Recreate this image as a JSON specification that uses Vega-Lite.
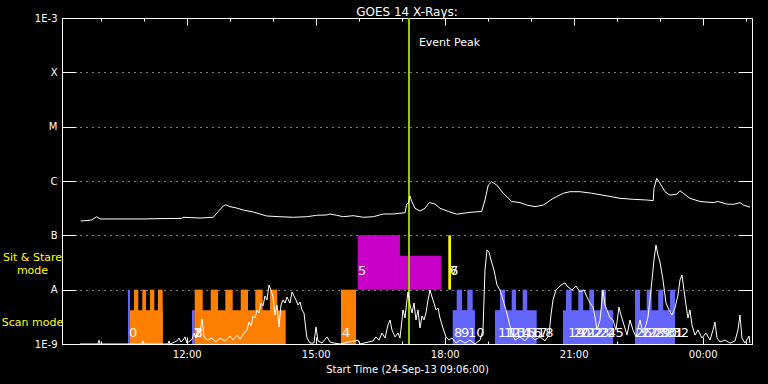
{
 "$schema": "https://vega.github.io/schema/vega-lite/v6.json",
 "width": 690, "height": 326,
 "autosize": {"type": "none"},
 "padding": {"left": 62, "top": 18, "right": 16, "bottom": 40},
 "background": "black",
 "title": {"text": "GOES 14 X-Rays:", "color": "white", "font": "DejaVu Sans", "fontSize": 12, "fontWeight": "normal", "offset": -6},
 "config": {"view": {"stroke": "white", "strokeWidth": 1},
  "axis": {"domainColor": "white", "tickColor": "white", "labelColor": "white", "labelFont": "DejaVu Sans", "labelFontSize": 10, "titleColor": "white", "titleFont": "DejaVu Sans", "titleFontSize": 10, "titleFontWeight": "normal", "grid": false}},
 "datasets": {
  "bars": [
   {"t0": 10.635, "t1": 10.681, "lo": 1e-9, "hi": 1e-8, "kind": "blue"},
   {"t0": 10.681, "t1": 11.442, "lo": 1e-9, "hi": 4.2e-9, "kind": "scan"},
   {"t0": 10.774, "t1": 10.874, "lo": 1e-9, "hi": 1e-8, "kind": "scan"},
   {"t0": 10.967, "t1": 11.053, "lo": 1e-9, "hi": 1e-8, "kind": "scan"},
   {"t0": 11.147, "t1": 11.247, "lo": 1e-9, "hi": 1e-8, "kind": "scan"},
   {"t0": 11.333, "t1": 11.442, "lo": 1e-9, "hi": 1e-8, "kind": "scan"},
   {"t0": 12.123, "t1": 12.186, "lo": 1e-9, "hi": 4.2e-9, "kind": "blue"},
   {"t0": 12.186, "t1": 14.302, "lo": 1e-9, "hi": 4.2e-9, "kind": "scan"},
   {"t0": 12.186, "t1": 12.372, "lo": 1e-9, "hi": 1e-8, "kind": "scan"},
   {"t0": 12.558, "t1": 12.728, "lo": 1e-9, "hi": 1e-8, "kind": "scan"},
   {"t0": 12.898, "t1": 13.070, "lo": 1e-9, "hi": 1e-8, "kind": "scan"},
   {"t0": 13.256, "t1": 13.426, "lo": 1e-9, "hi": 1e-8, "kind": "scan"},
   {"t0": 13.595, "t1": 13.767, "lo": 1e-9, "hi": 1e-8, "kind": "scan"},
   {"t0": 13.937, "t1": 14.107, "lo": 1e-9, "hi": 1e-8, "kind": "scan"},
   {"t0": 15.588, "t1": 15.937, "lo": 1e-9, "hi": 1e-8, "kind": "scan"},
   {"t0": 15.977, "t1": 16.960, "lo": 1e-8, "hi": 1e-7, "kind": "sit"},
   {"t0": 16.960, "t1": 17.914, "lo": 1e-8, "hi": 4.2e-8, "kind": "sit"},
   {"t0": 18.084, "t1": 18.147, "lo": 1e-8, "hi": 1e-7, "kind": "yellow"},
   {"t0": 18.186, "t1": 18.705, "lo": 1e-9, "hi": 4.2e-9, "kind": "blue"},
   {"t0": 18.279, "t1": 18.402, "lo": 1e-9, "hi": 1e-8, "kind": "blue"},
   {"t0": 18.526, "t1": 18.651, "lo": 1e-9, "hi": 1e-8, "kind": "blue"},
   {"t0": 19.170, "t1": 20.140, "lo": 1e-9, "hi": 4.2e-9, "kind": "blue"},
   {"t0": 19.286, "t1": 19.402, "lo": 1e-9, "hi": 1e-8, "kind": "blue"},
   {"t0": 19.558, "t1": 19.658, "lo": 1e-9, "hi": 1e-8, "kind": "blue"},
   {"t0": 19.814, "t1": 19.921, "lo": 1e-9, "hi": 1e-8, "kind": "blue"},
   {"t0": 20.751, "t1": 21.914, "lo": 1e-9, "hi": 4.2e-9, "kind": "blue"},
   {"t0": 20.821, "t1": 20.953, "lo": 1e-9, "hi": 1e-8, "kind": "blue"},
   {"t0": 21.107, "t1": 21.223, "lo": 1e-9, "hi": 1e-8, "kind": "blue"},
   {"t0": 21.363, "t1": 21.472, "lo": 1e-9, "hi": 1e-8, "kind": "blue"},
   {"t0": 21.635, "t1": 21.751, "lo": 1e-9, "hi": 1e-8, "kind": "blue"},
   {"t0": 22.426, "t1": 23.356, "lo": 1e-9, "hi": 4.2e-9, "kind": "blue"},
   {"t0": 22.426, "t1": 22.542, "lo": 1e-9, "hi": 1e-8, "kind": "blue"},
   {"t0": 22.698, "t1": 22.814, "lo": 1e-9, "hi": 1e-8, "kind": "blue"},
   {"t0": 22.967, "t1": 23.084, "lo": 1e-9, "hi": 1e-8, "kind": "blue"},
   {"t0": 23.240, "t1": 23.356, "lo": 1e-9, "hi": 1e-8, "kind": "blue"}
  ],
  "long": [
   {"t":9.535,"v":1.84e-7},{"t":9.635,"v":1.86e-7},{"t":9.79,"v":1.92e-7},{"t":9.907,"v":2.2e-7},{"t":9.984,"v":2.0e-7},{"t":10.286,"v":2.0e-7},{"t":10.984,"v":2.0e-7},{"t":11.379,"v":2.03e-7},{"t":11.884,"v":2.05e-7},{"t":11.914,"v":2.15e-7},{"t":12.309,"v":2.08e-7},{"t":12.619,"v":2.15e-7},{"t":12.735,"v":2.75e-7},{"t":12.851,"v":3.47e-7},{"t":12.907,"v":3.65e-7},{"t":13.007,"v":3.37e-7},{"t":13.163,"v":3.18e-7},{"t":13.316,"v":2.92e-7},{"t":13.549,"v":2.69e-7},{"t":13.705,"v":2.47e-7},{"t":13.86,"v":2.27e-7},{"t":14.17,"v":2.2e-7},{"t":14.479,"v":2.15e-7},{"t":14.791,"v":2.2e-7},{"t":15.023,"v":2.34e-7},{"t":15.256,"v":2.37e-7},{"t":15.333,"v":2.47e-7},{"t":15.488,"v":2.34e-7},{"t":15.642,"v":2.2e-7},{"t":15.874,"v":2.3e-7},{"t":16.107,"v":2.15e-7},{"t":16.34,"v":2.2e-7},{"t":16.572,"v":2.47e-7},{"t":16.805,"v":2.47e-7},{"t":16.96,"v":2.55e-7},{"t":17.077,"v":2.6e-7},{"t":17.116,"v":3.77e-7},{"t":17.153,"v":3.9e-7},{"t":17.193,"v":5.3e-7},{"t":17.233,"v":4.2e-7},{"t":17.309,"v":3.15e-7},{"t":17.426,"v":2.8e-7},{"t":17.542,"v":3.15e-7},{"t":17.642,"v":4.0e-7},{"t":17.774,"v":3.77e-7},{"t":17.891,"v":3.15e-7},{"t":18.084,"v":2.75e-7},{"t":18.279,"v":2.45e-7},{"t":18.588,"v":2.65e-7},{"t":18.86,"v":2.75e-7},{"t":18.937,"v":4.47e-7},{"t":19.014,"v":8.45e-7},{"t":19.093,"v":9.7e-7},{"t":19.209,"v":8.45e-7},{"t":19.363,"v":5.95e-7},{"t":19.558,"v":4.2e-7},{"t":19.751,"v":4.0e-7},{"t":19.907,"v":3.61e-7},{"t":20.1,"v":3.37e-7},{"t":20.293,"v":3.61e-7},{"t":20.526,"v":4.8e-7},{"t":20.758,"v":5.95e-7},{"t":20.914,"v":6.35e-7},{"t":21.147,"v":6.35e-7},{"t":21.419,"v":5.95e-7},{"t":21.612,"v":5.6e-7},{"t":21.844,"v":5.2e-7},{"t":22.077,"v":4.8e-7},{"t":22.386,"v":4.6e-7},{"t":22.698,"v":4.47e-7},{"t":22.851,"v":4.35e-7},{"t":22.867,"v":7.3e-7},{"t":22.93,"v":1.12e-6},{"t":23.007,"v":9.1e-7},{"t":23.123,"v":6.35e-7},{"t":23.239,"v":5.5e-7},{"t":23.395,"v":5.7e-7},{"t":23.472,"v":6.6e-7},{"t":23.549,"v":5.95e-7},{"t":23.705,"v":4.8e-7},{"t":23.937,"v":4.2e-7},{"t":24.247,"v":4.0e-7},{"t":24.353,"v":4.2e-7},{"t":24.56,"v":3.77e-7},{"t":24.714,"v":3.72e-7},{"t":24.87,"v":4.0e-7},{"t":24.947,"v":3.61e-7},{"t":25.1,"v":3.3e-7}
  ],
  "short": [
   {"t":9.519,"v":1.0e-9},{"t":9.937,"v":1.0e-9},{"t":9.960,"v":1.18e-9},{"t":9.984,"v":1.0e-9},{"t":10.960,"v":1.0e-9},{"t":10.984,"v":1.14e-9},{"t":11.007,"v":1.0e-9},{"t":11.565,"v":1.0e-9},{"t":11.588,"v":1.14e-9},{"t":11.612,"v":1.0e-9},{"t":11.774,"v":1.14e-9},{"t":11.821,"v":1.29e-9},{"t":11.867,"v":1.09e-9},{"t":11.914,"v":1.18e-9},{"t":11.960,"v":1.35e-9},{"t":12.007,"v":1.04e-9},{"t":12.077,"v":1.14e-9},{"t":12.123,"v":1.22e-9},{"t":12.170,"v":1.59e-9},{"t":12.216,"v":1.29e-9},{"t":12.263,"v":1.81e-9},{"t":12.309,"v":1.59e-9},{"t":12.356,"v":2.89e-9},{"t":12.402,"v":1.40e-9},{"t":12.472,"v":1.18e-9},{"t":12.588,"v":1.29e-9},{"t":12.681,"v":1.09e-9},{"t":12.774,"v":1.29e-9},{"t":12.891,"v":1.14e-9},{"t":13.007,"v":1.40e-9},{"t":13.077,"v":1.18e-9},{"t":13.170,"v":1.46e-9},{"t":13.240,"v":1.22e-9},{"t":13.333,"v":1.59e-9},{"t":13.402,"v":1.81e-9},{"t":13.449,"v":2.54e-9},{"t":13.495,"v":2.14e-9},{"t":13.542,"v":3.28e-9},{"t":13.588,"v":3.01e-9},{"t":13.635,"v":4.23e-9},{"t":13.681,"v":3.72e-9},{"t":13.728,"v":5.68e-9},{"t":13.774,"v":5.01e-9},{"t":13.821,"v":7.65e-9},{"t":13.867,"v":6.45e-9},{"t":13.914,"v":1.22e-8},{"t":13.960,"v":9.86e-9},{"t":14.007,"v":7.33e-9},{"t":14.053,"v":3.42e-9},{"t":14.100,"v":5.22e-9},{"t":14.147,"v":2.06e-9},{"t":14.193,"v":5.22e-9},{"t":14.240,"v":6.45e-9},{"t":14.286,"v":5.68e-9},{"t":14.333,"v":7.33e-9},{"t":14.402,"v":5.68e-9},{"t":14.449,"v":9.06e-9},{"t":14.495,"v":7.65e-9},{"t":14.542,"v":6.45e-9},{"t":14.588,"v":5.22e-9},{"t":14.635,"v":5.93e-9},{"t":14.681,"v":4.23e-9},{"t":14.728,"v":3.72e-9},{"t":14.774,"v":1.81e-9},{"t":14.798,"v":1.29e-9},{"t":14.867,"v":1.04e-9},{"t":14.960,"v":1.04e-9},{"t":15.007,"v":2.06e-9},{"t":15.053,"v":1.14e-9},{"t":15.147,"v":1.04e-9},{"t":15.263,"v":1.35e-9},{"t":15.333,"v":1.09e-9},{"t":15.426,"v":1.04e-9},{"t":15.565,"v":1.0e-9},{"t":15.984,"v":1.18e-9},{"t":16.030,"v":1.0e-9},{"t":16.333,"v":1.14e-9},{"t":16.402,"v":1.35e-9},{"t":16.472,"v":1.18e-9},{"t":16.542,"v":1.59e-9},{"t":16.612,"v":1.29e-9},{"t":16.681,"v":2.24e-9},{"t":16.728,"v":2.77e-9},{"t":16.774,"v":1.81e-9},{"t":16.844,"v":1.35e-9},{"t":16.914,"v":1.59e-9},{"t":16.960,"v":1.29e-9},{"t":17.007,"v":2.77e-9},{"t":17.030,"v":4.23e-9},{"t":17.077,"v":3.01e-9},{"t":17.123,"v":6.45e-9},{"t":17.147,"v":9.06e-9},{"t":17.193,"v":5.22e-9},{"t":17.240,"v":3.72e-9},{"t":17.286,"v":5.68e-9},{"t":17.333,"v":2.77e-9},{"t":17.379,"v":4.23e-9},{"t":17.426,"v":1.97e-9},{"t":17.472,"v":3.28e-9},{"t":17.519,"v":2.77e-9},{"t":17.565,"v":3.72e-9},{"t":17.612,"v":6.45e-9},{"t":17.658,"v":9.86e-9},{"t":17.705,"v":7.33e-9},{"t":17.751,"v":5.68e-9},{"t":17.798,"v":4.23e-9},{"t":17.844,"v":4.60e-9},{"t":17.891,"v":3.01e-9},{"t":17.960,"v":1.97e-9},{"t":18.030,"v":1.35e-9},{"t":18.100,"v":1.18e-9},{"t":18.170,"v":1.29e-9},{"t":18.263,"v":1.04e-9},{"t":18.356,"v":1.18e-9},{"t":18.472,"v":1.04e-9},{"t":18.588,"v":1.18e-9},{"t":18.705,"v":1.0e-9},{"t":18.821,"v":1.18e-9},{"t":18.891,"v":1.81e-9},{"t":18.914,"v":6.45e-9},{"t":18.937,"v":2.30e-8},{"t":18.984,"v":5.37e-8},{"t":19.030,"v":4.94e-8},{"t":19.077,"v":3.52e-8},{"t":19.147,"v":2.30e-8},{"t":19.216,"v":1.22e-8},{"t":19.286,"v":9.86e-9},{"t":19.356,"v":6.45e-9},{"t":19.426,"v":4.23e-9},{"t":19.495,"v":2.54e-9},{"t":19.565,"v":1.59e-9},{"t":19.635,"v":1.18e-9},{"t":19.751,"v":1.35e-9},{"t":19.867,"v":1.14e-9},{"t":19.984,"v":1.46e-9},{"t":20.100,"v":1.18e-9},{"t":20.216,"v":1.35e-9},{"t":20.333,"v":1.14e-9},{"t":20.426,"v":1.46e-9},{"t":20.472,"v":3.42e-9},{"t":20.519,"v":6.45e-9},{"t":20.588,"v":9.86e-9},{"t":20.681,"v":1.17e-8},{"t":20.751,"v":1.27e-8},{"t":20.798,"v":1.33e-8},{"t":20.867,"v":1.12e-8},{"t":20.960,"v":9.86e-9},{"t":21.053,"v":1.17e-8},{"t":21.147,"v":9.06e-9},{"t":21.240,"v":9.86e-9},{"t":21.309,"v":7.33e-9},{"t":21.379,"v":5.68e-9},{"t":21.449,"v":4.80e-9},{"t":21.495,"v":3.14e-9},{"t":21.542,"v":1.81e-9},{"t":21.612,"v":2.77e-9},{"t":21.681,"v":9.86e-9},{"t":21.728,"v":5.22e-9},{"t":21.774,"v":4.23e-9},{"t":21.844,"v":3.01e-9},{"t":21.914,"v":2.77e-9},{"t":21.984,"v":1.81e-9},{"t":22.053,"v":4.80e-9},{"t":22.100,"v":3.42e-9},{"t":22.170,"v":2.24e-9},{"t":22.240,"v":1.46e-9},{"t":22.309,"v":2.77e-9},{"t":22.379,"v":1.81e-9},{"t":22.449,"v":1.35e-9},{"t":22.542,"v":2.77e-9},{"t":22.612,"v":1.59e-9},{"t":22.681,"v":2.24e-9},{"t":22.728,"v":3.14e-9},{"t":22.774,"v":6.45e-9},{"t":22.821,"v":1.51e-8},{"t":22.867,"v":3.52e-8},{"t":22.914,"v":6.64e-8},{"t":22.960,"v":4.35e-8},{"t":23.007,"v":3.23e-8},{"t":23.077,"v":1.51e-8},{"t":23.147,"v":5.68e-9},{"t":23.216,"v":4.23e-9},{"t":23.286,"v":3.42e-9},{"t":23.356,"v":4.60e-9},{"t":23.426,"v":7.98e-9},{"t":23.472,"v":1.51e-8},{"t":23.519,"v":1.86e-8},{"t":23.565,"v":9.86e-9},{"t":23.612,"v":5.22e-9},{"t":23.658,"v":3.01e-9},{"t":23.705,"v":4.23e-9},{"t":23.751,"v":2.24e-9},{"t":23.821,"v":1.46e-9},{"t":23.891,"v":1.81e-9},{"t":23.984,"v":1.29e-9},{"t":24.077,"v":1.59e-9},{"t":24.170,"v":1.18e-9},{"t":24.240,"v":1.81e-9},{"t":24.286,"v":2.54e-9},{"t":24.333,"v":1.29e-9},{"t":24.402,"v":1.09e-9},{"t":24.519,"v":1.18e-9},{"t":24.635,"v":1.04e-9},{"t":24.751,"v":1.14e-9},{"t":24.821,"v":1.81e-9},{"t":24.867,"v":3.42e-9},{"t":24.914,"v":1.29e-9},{"t":24.984,"v":1.04e-9},{"t":25.077,"v":1.40e-9},{"t":25.100,"v":1.04e-9}
  ],
  "labels": [
   {"n":"0","t":10.658,"v":1.62e-9},{"n":"1","t":12.15,"v":1.62e-9},{"n":"2","t":12.17,"v":1.62e-9},{"n":"3","t":12.19,"v":1.62e-9},{"n":"4","t":15.612,"v":1.62e-9},
   {"n":"5","t":15.984,"v":2.2e-8},{"n":"6","t":18.123,"v":2.2e-8},{"n":"7","t":18.123,"v":2.2e-8},
   {"n":"8","t":18.216,"v":1.62e-9},{"n":"9","t":18.379,"v":1.62e-9},{"n":"10","t":18.542,"v":1.62e-9},
   {"n":"11","t":19.240,"v":1.62e-9},{"n":"12","t":19.379,"v":1.62e-9},{"n":"13","t":19.495,"v":1.62e-9},{"n":"14","t":19.612,"v":1.62e-9},{"n":"15","t":19.728,"v":1.62e-9},{"n":"16","t":19.867,"v":1.62e-9},{"n":"17","t":20.007,"v":1.62e-9},{"n":"18","t":20.147,"v":1.62e-9},
   {"n":"19","t":20.867,"v":1.62e-9},{"n":"20","t":21.00,"v":1.62e-9},{"n":"21","t":21.15,"v":1.62e-9},{"n":"22","t":21.30,"v":1.62e-9},{"n":"23","t":21.45,"v":1.62e-9},{"n":"24","t":21.60,"v":1.62e-9},{"n":"25","t":21.78,"v":1.62e-9},
   {"n":"26","t":22.43,"v":1.62e-9},{"n":"27","t":22.58,"v":1.62e-9},{"n":"28","t":22.72,"v":1.62e-9},{"n":"29","t":22.87,"v":1.62e-9},{"n":"30","t":23.02,"v":1.62e-9},{"n":"31","t":23.17,"v":1.62e-9},{"n":"32","t":23.30,"v":1.62e-9}
  ]
 },
 "resolve": {"axis": {"x": "independent", "y": "independent"}},
 "layer": [
  {
   "data": {"name": "bars"},
   "mark": {"type": "rect"},
   "encoding": {
    "x": {"field": "t0", "type": "quantitative", "scale": {"domain": [9.1, 25.147], "nice": false, "zero": false},
     "axis": {"orient": "bottom", "values": [12, 15, 18, 21, 24], "labelExpr": "datum.value >= 24 ? '00:00' : datum.value + ':00'", "tickSize": -7, "labelPadding": 12, "title": "Start Time (24-Sep-13 09:06:00)", "titlePadding": 5, "labelFlush": false}},
    "x2": {"field": "t1"},
    "y": {"field": "lo", "type": "quantitative", "scale": {"type": "log", "domain": [1e-9, 1e-3], "nice": false},
     "axis": {"orient": "left", "values": [1e-9, 1e-8, 1e-7, 1e-6, 1e-5, 1e-4, 1e-3], "labelExpr": "['1E-9','A','B','C','M','X','1E-3'][round(log(datum.value)/LN10)+9]", "tickSize": -14, "labelPadding": 19, "grid": true, "gridColor": "white", "gridDash": [1, 5], "gridOpacity": 1, "title": null}},
    "y2": {"field": "hi"},
    "color": {"field": "kind", "type": "nominal", "scale": {"domain": ["scan", "blue", "sit", "yellow"], "range": ["#ff7f00", "#6464ff", "#c800c8", "#ffff00"]}, "legend": null}
   }
  },
  {
   "data": {"values": [{"t": 17.17}]},
   "mark": {"type": "rule", "color": "#99cc00", "strokeWidth": 2},
   "encoding": {
    "x": {"field": "t", "type": "quantitative", "scale": {"domain": [9.1, 25.147], "nice": false, "zero": false},
     "axis": {"orient": "top", "values": [10, 11, 12, 13, 14, 15, 16, 17, 18, 19, 20, 21, 22, 23, 24, 25], "tickSize": -3, "labels": false, "domain": false, "title": null}}
   }
  },
  {
   "data": {"name": "short"},
   "mark": {"type": "line", "color": "white", "strokeWidth": 1, "clip": true},
   "encoding": {
    "x": {"field": "t", "type": "quantitative", "scale": {"domain": [9.1, 25.147], "nice": false, "zero": false},
     "axis": {"orient": "top", "values": [12, 15, 18, 21, 24], "tickSize": -7, "labels": false, "domain": false, "title": null}},
    "y": {"field": "v", "type": "quantitative", "scale": {"type": "log", "domain": [1e-9, 1e-3], "nice": false},
     "axis": {"orient": "right", "values": [1e-9, 1e-8, 1e-7, 1e-6, 1e-5, 1e-4, 1e-3], "tickSize": -14, "labels": false, "domain": false, "title": null}}
   }
  },
  {
   "data": {"name": "long"},
   "mark": {"type": "line", "color": "white", "strokeWidth": 1, "clip": true},
   "encoding": {
    "x": {"field": "t", "type": "quantitative", "scale": {"domain": [9.1, 25.147], "nice": false, "zero": false},
     "axis": {"orient": "bottom", "values": [10, 11, 12, 13, 14, 15, 16, 17, 18, 19, 20, 21, 22, 23, 24, 25], "tickSize": -3, "labels": false, "domain": false, "title": null}},
    "y": {"field": "v", "type": "quantitative", "scale": {"type": "log", "domain": [1e-9, 1e-3], "nice": false},
     "axis": {"orient": "left", "values": [2.44e-9, 3.83e-8], "labelExpr": "datum.value < 5e-9 ? 'Scan mode' : ['Sit & Stare', 'mode']", "ticks": false, "domain": false, "labelAlign": "center", "labelBaseline": "middle", "labelPadding": 30, "labelColor": "#ffff00", "labelFontSize": 11, "labelLineHeight": 13, "title": null}}
   }
  },
  {
   "data": {"name": "labels"},
   "mark": {"type": "text", "align": "left", "baseline": "middle", "color": "white", "font": "DejaVu Sans", "fontSize": 13},
   "encoding": {
    "x": {"field": "t", "type": "quantitative", "scale": {"domain": [9.1, 25.147], "nice": false, "zero": false}, "axis": null},
    "y": {"field": "v", "type": "quantitative", "scale": {"type": "log", "domain": [1e-9, 1e-3], "nice": false}, "axis": null},
    "text": {"field": "n"}
   }
  },
  {
   "data": {"values": [{"t": 17.40, "v": 3.47e-4, "s": "Event Peak"}]},
   "mark": {"type": "text", "align": "left", "baseline": "middle", "color": "white", "font": "DejaVu Sans", "fontSize": 11},
   "encoding": {
    "x": {"field": "t", "type": "quantitative", "scale": {"domain": [9.1, 25.147], "nice": false, "zero": false}, "axis": null},
    "y": {"field": "v", "type": "quantitative", "scale": {"type": "log", "domain": [1e-9, 1e-3], "nice": false}, "axis": null},
    "text": {"field": "s"}
   }
  }
 ]
}
